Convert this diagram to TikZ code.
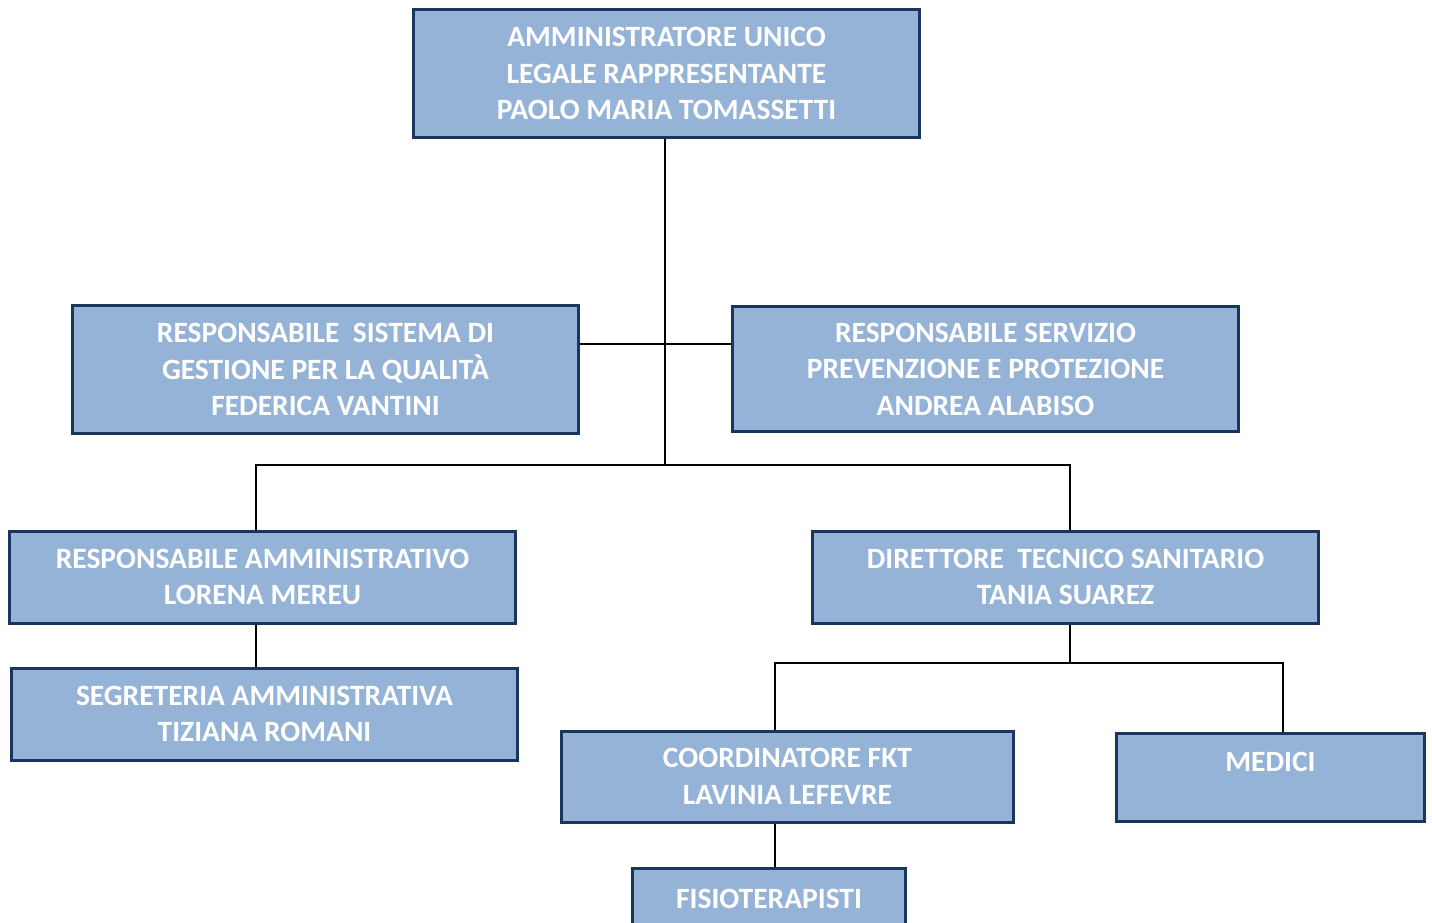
\documentclass[tikz,border=0pt]{standalone}
\usepackage{fontspec}
\setmainfont{Carlito}
\definecolor{boxfill}{HTML}{95B3D7}
\definecolor{boxline}{HTML}{1B365D}
\begin{document}
\begin{tikzpicture}[x=1pt,y=-1pt,
    orgbox/.style={draw=boxline, line width=3pt, fill=boxfill, text=white,
        font=\bfseries\fontsize{29.5}{36.5}\selectfont, align=center,
        inner sep=0pt, minimum width=506pt},
    link/.style={line width=1.6pt}]
    \useasboundingbox (0,0) rectangle (1432,922);
    \clip (0,0) rectangle (1432,922);
    \fill[white] (0,0) rectangle (1432,922);
    % boxes
    \node[orgbox, minimum height=128pt] (amm) at (666.5,73.5)
        {AMMINISTRATORE UNICO\\LEGALE RAPPRESENTANTE\\PAOLO MARIA TOMASSETTI};
    \node[orgbox, minimum height=128pt] (rsgq) at (325.5,369.5)
        {RESPONSABILE\ \ SISTEMA DI\\GESTIONE PER LA QUALITÀ\\FEDERICA VANTINI};
    \node[orgbox, minimum height=125pt] (rspp) at (985.5,369)
        {RESPONSABILE SERVIZIO\\PREVENZIONE E PROTEZIONE\\ANDREA ALABISO};
    \node[orgbox, minimum height=92pt] (ramm) at (262.5,577)
        {RESPONSABILE AMMINISTRATIVO\\LORENA MEREU};
    \node[orgbox, minimum height=92pt] (dts) at (1065.5,577)
        {DIRETTORE\ \ TECNICO SANITARIO\\TANIA SUAREZ};
    \node[orgbox, minimum height=92pt] (segr) at (264.5,714)
        {SEGRETERIA AMMINISTRATIVA\\TIZIANA ROMANI};
    \node[orgbox, minimum width=452pt, minimum height=91pt] (coord) at (787.5,776.5)
        {COORDINATORE FKT\\LAVINIA LEFEVRE};
    \node[orgbox, minimum width=308pt, minimum height=88pt] (medici) at (1270.5,777)
        {MEDICI\\[-18pt]\strut};
    \node[orgbox, minimum width=273pt, minimum height=91pt] (fisio) at (769,913.5)
        {FISIOTERAPISTI\\[-18pt]\strut};
    % connectors
    \coordinate (staff) at (665,344);
    \coordinate (bus) at (665,465);
    \coordinate (busdts) at (1070,663);
    \draw[link] (amm.south -| bus) -- (bus);
    \draw[link] (rsgq.east |- staff) -- (rspp.west |- staff);
    \draw[link] (ramm.north -| 256,0) -- (256,465) -- (1070,465) -- (dts.north -| 1070,0);
    \draw[link] (ramm.south -| 256,0) -- (segr.north -| 256,0);
    \draw[link] (dts.south -| busdts) -- (busdts);
    \draw[link] (coord.north -| 775,0) -- (775,663) -- (1283,663) -- (medici.north -| 1283,0);
    \draw[link] (coord.south -| 775,0) -- (fisio.north -| 775,0);
\end{tikzpicture}
\end{document}
